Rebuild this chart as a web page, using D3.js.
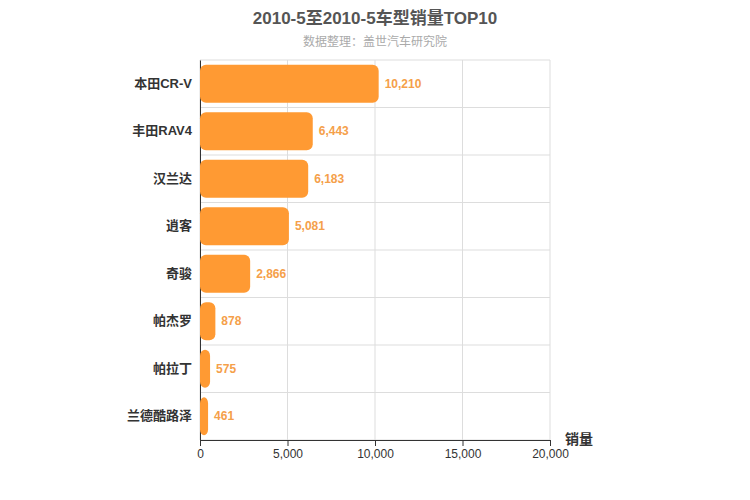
<!DOCTYPE html>
<html><head><meta charset="utf-8">
<script src="https://cdn.jsdelivr.net/npm/d3@7"></script>
<style>body{margin:0;background:#fff;font-family:"Liberation Sans","Noto Sans CJK SC",sans-serif}svg text{font-family:"Liberation Sans","Noto Sans CJK SC",sans-serif}</style>
</head><body><div id="chart"></div>
<script>
const categories = ['本田CR-V', '丰田RAV4', '汉兰达', '逍客', '奇骏', '帕杰罗', '帕拉丁', '兰德酷路泽'];
const sales = [10210, 6443, 6183, 5081, 2866, 878, 575, 461];
const xTicks = [0, 5000, 10000, 15000, 20000];

const width = 750, height = 500;
const margin = { top: 60, right: 200, bottom: 60, left: 200 };

const svg = d3.select('#chart').append('svg')
    .attr('width', width).attr('height', height);

const x = d3.scaleLinear().domain([0, 20000]).range([margin.left, width - margin.right]);
const y = d3.scaleBand().domain(categories).range([margin.top, height - margin.bottom]).paddingInner(0.2).paddingOuter(0.1);
const rowStep = (height - margin.top - margin.bottom) / categories.length;

// Title
svg.append('text').attr('x', 375).attr('y', 24).attr('text-anchor', 'middle')
    .style('font-size', '17px').style('font-weight', 'bold').style('fill', '#555')
    .text('2010-5至2010-5车型销量TOP10');
svg.append('text').attr('x', 375).attr('y', 46).attr('text-anchor', 'middle')
    .style('font-size', '12px').style('fill', '#aaa')
    .text('数据整理：盖世汽车研究院');

// Grid
const grid = svg.append('g');
xTicks.forEach(t => grid.append('line')
    .attr('x1', x(t)).attr('x2', x(t)).attr('y1', margin.top).attr('y2', height - margin.bottom)
    .attr('stroke', '#ddd'));
d3.range(categories.length + 1).forEach(i => grid.append('line')
    .attr('x1', margin.left).attr('x2', width - margin.right)
    .attr('y1', margin.top + i * rowStep).attr('y2', margin.top + i * rowStep)
    .attr('stroke', '#ddd'));

// X axis
const xAxis = svg.append('g').attr('transform', `translate(0,${height - margin.bottom})`)
    .call(d3.axisBottom(x).tickValues(xTicks).tickFormat(d3.format(',')).tickSizeOuter(0));
xAxis.selectAll('text').style('font-size', '12px').style('fill', '#333');
xAxis.selectAll('line,path').attr('stroke', '#333');

// Y axis
const yAxis = svg.append('g').attr('transform', `translate(${margin.left},0)`)
    .call(d3.axisLeft(y).tickSize(0).tickPadding(8));
yAxis.selectAll('text').style('font-size', '13px').style('font-weight', 'bold').style('fill', '#333');
yAxis.select('path').attr('stroke', '#333');

svg.append('text').attr('x', 565).attr('y', 444)
    .style('font-size', '14px').style('font-weight', 'bold').style('fill', '#333').text('销量');

// Bars
svg.append('g').selectAll('rect').data(categories).join('rect')
    .attr('x', x(0)).attr('y', d => y(d))
    .attr('width', (d, i) => x(sales[i]) - x(0)).attr('height', y.bandwidth())
    .attr('rx', 6).attr('fill', '#ff9a33');

svg.append('g').selectAll('text').data(categories).join('text')
    .attr('x', (d, i) => x(sales[i]) + 6).attr('y', d => y(d) + y.bandwidth() / 2 + 4)
    .style('font-size', '12px').style('font-weight', 'bold').style('fill', '#f5a04a')
    .text((d, i) => d3.format(',')(sales[i]));
</script></body></html>
